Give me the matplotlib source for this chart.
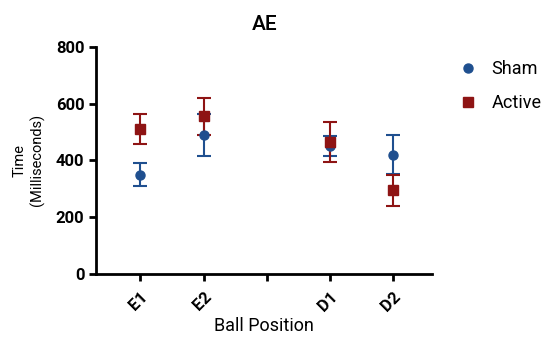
import numpy as np
import matplotlib.pyplot as plt

plt.rcParams['font.family'] = ['Roboto', 'DejaVu Sans']

positions = ["E1", "E2", "", "D1", "D2"]
x_sham = [1, 2, 4, 5]
x_active = [1, 2, 4, 5]
sham_mean = [350, 490, 450, 420]
sham_err = [40, 75, 35, 68]
active_mean = [510, 555, 465, 295]
active_err = [52, 65, 70, 55]

sham_color = "#1f4f8f"
active_color = "#8e1414"

fig = plt.figure(figsize=(5.43, 3.37), dpi=100)
ax = fig.add_axes([0.177, 0.187, 0.619, 0.674])

ax.errorbar(x_sham, sham_mean, yerr=sham_err, fmt="o", color=sham_color,
            ms=6.5, capsize=5, elinewidth=1.5, capthick=1.5, label="Sham")
ax.errorbar(x_active, active_mean, yerr=active_err, fmt="s", color=active_color,
            ms=6.5, capsize=5, elinewidth=1.5, capthick=1.5, label="Active")

ax.set_xlim(0.3, 5.62)
ax.set_ylim(0, 800)
ax.set_yticks([0, 200, 400, 600, 800])
ax.set_xticks(range(1, 6))
ax.set_xticklabels(positions, rotation=45, fontsize=12, fontweight="bold",
                   ha="right", rotation_mode="anchor")
for lab in ax.get_yticklabels():
    lab.set_fontsize(12)
    lab.set_fontweight("bold")

ax.spines["top"].set_visible(False)
ax.spines["right"].set_visible(False)
ax.spines["left"].set_linewidth(2)
ax.spines["bottom"].set_linewidth(2)
ax.tick_params(width=2, length=5)
ax.tick_params(axis="x", pad=6)

ax.set_title("AE", fontsize=15, pad=12, fontweight="medium")
ax.set_xlabel("Ball Position", fontsize=13, labelpad=2)
ax.set_ylabel("Time\n(Milliseconds)", fontsize=10.5, labelpad=8)

handles, labels = ax.get_legend_handles_labels()
handles = [h[0] for h in handles]
fig.legend(handles, labels, loc="upper left", bbox_to_anchor=(0.815, 0.87),
           frameon=False, fontsize=13, handletextpad=0.8, labelspacing=0.9,
           handlelength=1.0)

fig.savefig("out.png", dpi=100)
